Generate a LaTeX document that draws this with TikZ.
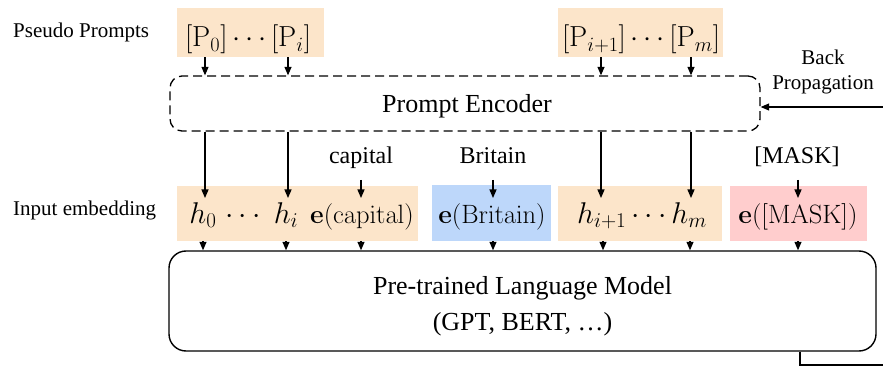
\RequirePackage{fix-cm}
\documentclass[tikz,border=0pt]{standalone}
\usepackage[no-math]{fontspec}
\newfontfamily\tms{Liberation Serif}
\usetikzlibrary{arrows.meta}
\definecolor{peach}{RGB}{252,229,202}
\definecolor{skyb}{RGB}{189,215,250}
\definecolor{rosy}{RGB}{255,205,205}
\tikzset{
  arr/.style={line width=1.2pt,-{Stealth[length=8.5pt,width=7pt,inset=0pt]}},
  fillbox/.style={draw=none,inner sep=0pt,anchor=north west},
  lbl/.style={inner sep=0pt,anchor=base,font=\tms\fontsize{21}{25}\selectfont},
  lblb/.style={inner sep=0pt,anchor=base,font=\tms\fontsize{24}{28}\selectfont},
  big/.style={inner sep=0pt,anchor=base,font=\tms\fontsize{26}{30}\selectfont},
  pm/.style={inner sep=0pt,anchor=base,font=\fontsize{29}{34}\selectfont},
  hm/.style={inner sep=0pt,anchor=base,font=\fontsize{30}{36}\selectfont},
  em/.style={inner sep=0pt,anchor=base,font=\fontsize{26.5}{31}\selectfont},
}
\begin{document}
\begin{tikzpicture}[x=1pt,y=-1pt]
\useasboundingbox (0,0) rectangle (883,366);
% fill boxes
\node[fillbox,fill=peach,minimum width=147pt,minimum height=49pt] (pb1) at (177,8) {};
\node[fillbox,fill=peach,minimum width=165pt,minimum height=49pt] (pb2) at (558,8) {};
\node[fillbox,fill=peach,minimum width=241pt,minimum height=55pt] (eb1) at (177,186) {};
\node[fillbox,fill=skyb,minimum width=119pt,minimum height=56pt] (eb2) at (432,185) {};
\node[fillbox,fill=peach,minimum width=164pt,minimum height=55pt] (eb3) at (558,186) {};
\node[fillbox,fill=rosy,minimum width=137pt,minimum height=55pt] (eb4) at (730,186) {};
% encoder and LM
\node[draw,dashed,dash pattern=on 9pt off 5pt,line width=1.3pt,rounded corners=12pt,inner sep=0pt,
      minimum width=590pt,minimum height=55pt] (enc) at (465,103.5) {};
\node[draw,line width=1.4pt,rounded corners=17pt,inner sep=0pt,
      minimum width=707pt,minimum height=100pt] (lm) at (522.5,301) {};
% texts
\node[lbl,anchor=base west] (pp) at (13,38) {Pseudo Prompts};
\node[lbl,anchor=base west] (ie) at (13,215) {Input embedding};
\node[pm] (pt1) at (248,47) {$[\mathrm{P}_0]\cdots[\mathrm{P}_i]$};
\node[pm] (pt2) at (641,47) {$[\mathrm{P}_{i+1}]\cdots[\mathrm{P}_m]$};
\node[big] (enct) at (467,113) {Prompt Encoder};
\node[lbl] (bk) at (823,65) {Back};
\node[lbl] (bp) at (823,90) {Propagation};
\node[lblb] (cap) at (361,164) {capital};
\node[lblb] (bri) at (493,164) {Britain};
\node[lblb] (msk) at (797,164) {[MASK]};
\node[hm] (h0) at (203,223) {$h_0$};
\node[hm] (hd) at (243,223) {$\cdots$};
\node[hm] (hi) at (286,223) {$h_i$};
\node[em] (ecap) at (362,223) {$\mathbf{e}(\mathrm{capital})$};
\node[em] (ebri) at (492,223) {$\mathbf{e}(\mathrm{Britain})$};
\node[hm] (hrest) at (642,223) {$h_{i+1}\cdots h_m$};
\node[em] (emsk) at (798,223) {$\mathbf{e}([\mathrm{MASK}])$};
\node[big] (lm1) at (522.5,294) {Pre-trained Language Model};
\node[big] (lm2) at (522.5,330) {(GPT, BERT, \dots)};
% arrow columns
\coordinate (c1) at (205,0);
\coordinate (c2) at (288,0);
\coordinate (c3) at (601,0);
\coordinate (c4) at (691,0);
\coordinate (d1) at (203,0);
\coordinate (d2) at (286,0);
\coordinate (d3) at (361,0);
\coordinate (d4) at (493,0);
\coordinate (d5) at (603,0);
\coordinate (d6) at (690,0);
\coordinate (d7) at (798,0);
\coordinate (tipline) at (0,198);
\coordinate (lblline) at (0,180);
\coordinate (bpin) at (883,107);
\coordinate (bpout) at (800,0);
\coordinate (corner) at (883,365);
% arrows prompts -> encoder
\foreach \c in {c1,c2} \draw[arr] (pb1.south -| \c) -- (enc.north -| \c);
\foreach \c in {c3,c4} \draw[arr] (pb2.south -| \c) -- (enc.north -| \c);
% encoder -> embeddings
\draw[arr] (enc.south -| c1) -- (tipline -| c1);
\draw[arr] (enc.south -| c2) -- (tipline -| c2);
\draw[arr] (enc.south -| c3) -- (tipline -| c3);
\draw[arr] (enc.south -| c4) -- (tipline -| c4);
% words -> embeddings
\draw[arr] (lblline -| d3) -- (tipline -| d3);
\draw[arr] (lblline -| d4) -- (tipline -| d4);
\draw[arr] (lblline -| d7) -- (tipline -| d7);
% embeddings -> LM
\foreach \c in {d1,d2,d3} \draw[arr] (eb1.south -| \c) -- (lm.north -| \c);
\draw[arr] (eb2.south -| d4) -- (lm.north -| d4);
\foreach \c in {d5,d6} \draw[arr] (eb3.south -| \c) -- (lm.north -| \c);
\draw[arr] (eb4.south -| d7) -- (lm.north -| d7);
% back propagation
\draw[line width=1.3pt] (lm.south -| bpout) -- (corner -| bpout) -- (corner);
\draw[arr] (bpin) -- (enc.east |- bpin);
\end{tikzpicture}
\end{document}
